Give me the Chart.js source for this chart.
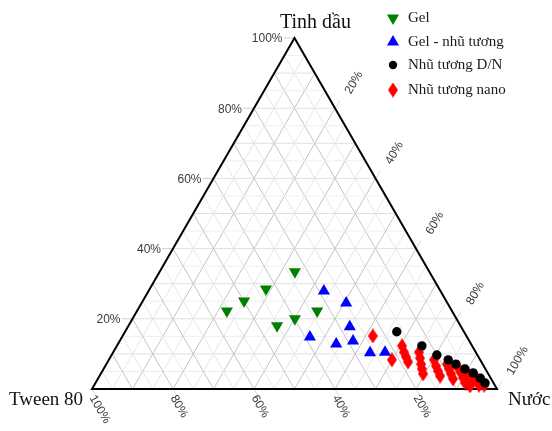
<!DOCTYPE html>
<html>
<head>
<meta charset="utf-8">
<script src="https://cdn.jsdelivr.net/npm/chart.js@4.4.4/dist/chart.umd.min.js"></script>
<style>
  html, body { margin: 0; padding: 0; background: #fff; }
  #wrap { width: 552px; height: 431px; }
</style>
</head>
<body>
<div id="wrap"><canvas id="ternary" width="552" height="431"></canvas></div>
<script>
// Vertex titles and tick marks (percent)
const titleTween = "Tween 80"
const titleOil = "Tinh dầu"
const titleWater = "Nước"
const tickValues = [20, 40, 60, 80, 100]
const tickLabels = ["20%", "40%", "60%", "80%", "100%"]
const seriesNames = ["Gel", "Gel - nhũ tương", "Nhũ tương D/N", "Nhũ tương nano"]

// Compositions in % : Tween 80 / Tinh dầu / Nước
const gelTween = [33.2, 42.8, 49.9, 55.6, 33.3, 39.9, 45.3]
const gelOil   = [33.4, 28.5, 25.1, 22.2, 22.2, 20.0, 18.0]
const gelWater = [33.4, 28.7, 25.0, 22.2, 44.5, 40.1, 36.7]

const gelEmTween = [28.8, 25.0, 27.5, 38.8, 33.3, 28.7, 26.2, 22.4]
const gelEmOil   = [27.9, 24.5, 17.7, 14.8, 12.8, 13.7, 10.3, 10.5]
const gelEmWater = [43.3, 50.5, 54.8, 46.4, 53.9, 57.6, 63.5, 67.1]

const owTween = [16.6, 12.4, 10.0, 7.9, 6.6, 5.1, 3.6, 2.6, 2.1]
const owOil   = [16.3, 12.3, 9.7, 8.3, 7.1, 5.7, 4.6, 3.1, 1.7]
const owWater = [67.1, 75.3, 80.3, 83.8, 86.3, 89.2, 91.8, 94.3, 96.2]

const nanoTween = [23.1, 21.8, 17.3, 17.7, 17.9, 18.1, 14.0, 14.6, 15.2, 15.7, 16.1,
                   11.4, 11.8, 12.0, 12.2, 8.8, 9.0, 9.2, 9.4, 6.6, 6.6, 6.8, 7.0,
                   5.0, 5.0, 5.2, 3.6, 3.8, 3.9, 2.6, 2.6, 6.2]
const nanoOil   = [15.1, 8.3, 12.3, 10.5, 9.1, 7.7, 10.5, 8.8, 7.1, 5.7, 4.3,
                   8.3, 6.6, 5.1, 3.7, 7.1, 5.7, 4.3, 2.9, 6.0, 4.6, 3.1, 1.7,
                   4.9, 3.4, 2.0, 3.7, 2.3, 1.1, 2.3, 1.1, 0.9]
const nanoWater = [61.8, 69.9, 70.4, 71.8, 73.0, 74.2, 75.5, 76.6, 77.7, 78.6, 79.6,
                   80.3, 81.6, 82.9, 84.1, 84.1, 85.3, 86.5, 87.7, 87.4, 88.8, 90.1, 91.3,
                   90.1, 91.6, 92.8, 92.7, 93.9, 95.0, 95.1, 96.3, 92.9]

const H = Math.sqrt(3) / 2

// ternary -> cartesian (x along base towards Nước, y towards Tinh dầu)
function toXY(tween, oil, water) {
  return tween.map((t, i) => {
    const s = t + oil[i] + water[i]
    const o = oil[i] / s * 100, w = water[i] / s * 100
    return { x: w + o / 2, y: o * H }
  })
}

function diamond(w, h, color) {
  const c = document.createElement("canvas")
  c.width = w
  c.height = h
  const g = c.getContext("2d")
  g.fillStyle = color
  g.beginPath()
  g.moveTo(w / 2, 0)
  g.lineTo(w, h / 2)
  g.lineTo(w / 2, h)
  g.lineTo(0, h / 2)
  g.closePath()
  g.fill()
  return c
}
const redDiamond = diamond(10, 15, "#ff0000")

const styles = [
  { pointStyle: "triangle", rotation: 180, pointRadius: 7, color: "#008000" },
  { pointStyle: "triangle", rotation: 0, pointRadius: 7, color: "#0000ff" },
  { pointStyle: "circle", rotation: 0, pointRadius: 4.7, color: "#000000" },
  { pointStyle: redDiamond, rotation: 0, pointRadius: 5, color: "#ff0000" }
]

const ternaryFrame = {
  id: "ternaryFrame",
  beforeDatasetsDraw(chart) {
    const ctx = chart.ctx
    const sx = chart.scales.x, sy = chart.scales.y
    // point from percentages (tween is implied)
    const P = (o, w) => [sx.getPixelForValue(w + o / 2), sy.getPixelForValue(o * H)]
    const line = (a, b, color, width) => {
      ctx.strokeStyle = color
      ctx.lineWidth = width
      ctx.beginPath()
      ctx.moveTo(a[0], a[1])
      ctx.lineTo(b[0], b[1])
      ctx.stroke()
    }
    ctx.save()

    // grid every 5%, darker every 10%
    for (let k = 5; k < 100; k += 5) {
      const major = k % 10 === 0
      // constant Tinh dầu (horizontal)
      line(P(k, 0), P(k, 100 - k), major ? "#e0e0e0" : "#efefef", 1)
      // constant Nước
      line(P(0, k), P(100 - k, k), major ? "#c4c4c4" : "#e6e6e6", 1)
      // constant Tween 80
      line(P(0, 100 - k), P(100 - k, 0), major ? "#c4c4c4" : "#e6e6e6", 1)
    }

    // outer ticks
    ctx.font = "12px 'Liberation Sans', Arial, sans-serif"
    ctx.fillStyle = "#3a3a3a"
    tickValues.forEach((v, i) => {
      // Tinh dầu on left side
      const a = P(v, 0)
      line([a[0] - 11, a[1]], a, "#cfcfcf", 1)
      ctx.textAlign = "right"
      ctx.textBaseline = "middle"
      ctx.fillText(tickLabels[i], a[0] - 12, a[1] + 1)

      // Tween 80 on base
      const b = P(0, 100 - v)
      line(b, [b[0] + 4, b[1] + 7], "#dcdcdc", 1)
      ctx.save()
      ctx.translate(b[0], b[1] + 7)
      ctx.rotate(Math.PI / 3)
      ctx.textAlign = "left"
      ctx.fillText(tickLabels[i], 0, 0)
      ctx.restore()

      // Nước on right side
      const c = P(100 - v, v)
      line(c, [c[0] + 5, c[1] - 8], "#dcdcdc", 1)
      ctx.save()
      ctx.translate(c[0] + 13, c[1] - 15)
      ctx.rotate(-Math.PI / 3)
      ctx.textAlign = "left"
      ctx.fillText(tickLabels[i], 0, 0)
      ctx.restore()
    })

    // triangle border
    const A = P(0, 0), B = P(0, 100), C = P(100, 0)
    ctx.strokeStyle = "#000"
    ctx.lineWidth = 2
    ctx.lineJoin = "miter"
    ctx.beginPath()
    ctx.moveTo(A[0], A[1])
    ctx.lineTo(B[0], B[1])
    ctx.lineTo(C[0], C[1])
    ctx.closePath()
    ctx.stroke()

    // vertex titles
    ctx.fillStyle = "#111"
    ctx.textBaseline = "alphabetic"
    ctx.textAlign = "left"
    ctx.font = "20px 'Liberation Serif', 'Times New Roman', serif"
    ctx.fillText(titleOil, 280, 28)
    ctx.font = "19px 'Liberation Serif', 'Times New Roman', serif"
    ctx.fillText(titleTween, 9, 405)
    ctx.fillText(titleWater, 508, 405)
    ctx.restore()
  },
  afterDraw(chart) {
    const ctx = chart.ctx
    const rows = [18, 42, 65, 90]
    ctx.save()
    ctx.font = "15px 'Liberation Serif', 'Times New Roman', serif"
    ctx.textBaseline = "middle"
    ctx.textAlign = "left"
    seriesNames.forEach((name, i) => {
      const st = styles[i]
      ctx.fillStyle = st.color
      ctx.strokeStyle = st.color
      Chart.helpers.drawPoint(ctx, {
        pointStyle: st.pointStyle,
        rotation: st.rotation,
        radius: i === 2 ? 4.2 : 7,
        borderWidth: 0
      }, 393, rows[i])
      ctx.fillStyle = "#1a1a1a"
      ctx.fillText(name, 408, rows[i])
    })
    ctx.restore()
  }
}

const seriesData = [
  toXY(gelTween, gelOil, gelWater),
  toXY(gelEmTween, gelEmOil, gelEmWater),
  toXY(owTween, owOil, owWater),
  toXY(nanoTween, nanoOil, nanoWater)
]

new Chart(document.getElementById("ternary"), {
  type: "scatter",
  data: {
    datasets: seriesNames.map((name, i) => ({
      label: name,
      data: seriesData[i],
      pointStyle: styles[i].pointStyle,
      rotation: styles[i].rotation,
      pointRadius: styles[i].pointRadius,
      pointHoverRadius: styles[i].pointRadius,
      backgroundColor: styles[i].color,
      borderColor: styles[i].color,
      borderWidth: 0,
      clip: false
    }))
  },
  options: {
    responsive: false,
    animation: false,
    layout: { padding: { left: 92, right: 55, top: 38, bottom: 42 } },
    plugins: {
      legend: { display: false },
      tooltip: { enabled: false }
    },
    scales: {
      x: { type: "linear", min: 0, max: 100, display: false },
      y: { type: "linear", min: 0, max: 100 * H, display: false }
    }
  },
  plugins: [ternaryFrame]
})
</script>
</body>
</html>
